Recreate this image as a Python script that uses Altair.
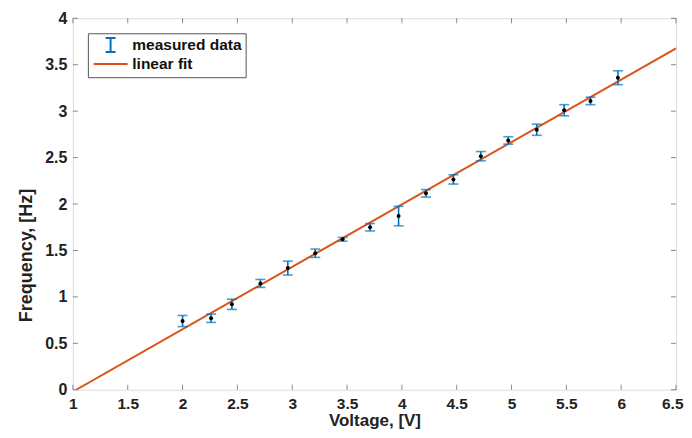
import altair as alt
import pandas as pd

# ---- data ----
volts = [2.00, 2.26, 2.45, 2.71, 2.96, 3.21, 3.46, 3.71, 3.97, 4.22, 4.47, 4.72, 4.97, 5.23, 5.48, 5.72, 5.97]
freq = [0.74, 0.77, 0.92, 1.145, 1.31, 1.47, 1.62, 1.75, 1.87, 2.115, 2.265, 2.515, 2.685, 2.80, 3.01, 3.11, 3.36]
err = [0.06, 0.045, 0.055, 0.043, 0.075, 0.045, 0.02, 0.04, 0.105, 0.04, 0.05, 0.05, 0.04, 0.06, 0.06, 0.04, 0.075]
fit_x = [1.03, 6.5]
fit_y = [0.0, 3.675]
x_ticks = [1, 1.5, 2, 2.5, 3, 3.5, 4, 4.5, 5, 5.5, 6, 6.5]
y_ticks = [0, 0.5, 1, 1.5, 2, 2.5, 3, 3.5, 4]
series = ["measured data", "linear fit"]

W, H = 604, 372
BLUE = "#0072BD"
ORANGE = "#D95319"
FRAME = "#555555"
FONT = "Liberation Sans"

meas = pd.DataFrame({
    "x": volts, "y": freq,
    "lo": [f - e for f, e in zip(freq, err)],
    "hi": [f + e for f, e in zip(freq, err)],
    "series": series[0],
})
fit = pd.DataFrame({"x": fit_x, "y": fit_y, "series": series[1]})
both = pd.concat([meas[["x", "y", "series"]], fit], ignore_index=True)
xt = pd.DataFrame({"x": x_ticks})
yt = pd.DataFrame({"y": y_ticks})

sx = alt.Scale(domain=[1, 6.5], nice=False, zero=False)
sy = alt.Scale(domain=[0, 4], nice=False, zero=False)
last_x = x_ticks[-1]
ax = alt.Axis(values=x_ticks, format="~g", tickSize=0, domain=False, grid=False,
              labelPadding=7, labelFontSize=15.5, labelFontWeight="bold", labelColor="#222",
              labelFont=FONT,
              labelAlign={"condition": {"test": f"datum.value == {last_x}", "value": "right"}, "value": "center"},
              labelOffset={"condition": {"test": f"datum.value == {last_x}", "value": 7}, "value": 0},
              title="Voltage, [V]", titleFontSize=17, titleFontWeight="bold",
              titleFont=FONT, titleColor="#222", titlePadding=0, labelFlush=False)
ay = alt.Axis(values=y_ticks, format="~g", tickSize=0, domain=False, grid=False,
              labelPadding=6, labelFontSize=16, labelFontWeight="bold", labelColor="#222",
              labelFont=FONT, title="Frequency, [Hz]", titleFontSize=18, titleFontWeight="bold",
              titleFont=FONT, titleColor="#222", titlePadding=9, titleY=237, labelFlush=False)


def X(f="x"):
    return alt.X(f"{f}:Q", scale=sx, axis=ax)


def Y(f="y"):
    return alt.Y(f"{f}:Q", scale=sy, axis=ay)


ERR_PATH = "M1.83,-1.17L1.83,1.17M1.0,-1.17L2.67,-1.17M1.0,1.17L2.67,1.17M1.83,-0.25L1.83,0.25"
LINE_PATH = "M-1,0L4.67,0"

legend = alt.Legend(
    title=None, orient="none", legendX=15, legendY=15,
    labelFont=FONT, labelFontSize=15.5, labelFontWeight="bold", labelColor="#111",
    labelOffset=25, symbolSize=144, symbolStrokeWidth=2, symbolOpacity=1,
    padding=4, rowPadding=0, strokeColor=FRAME, fillColor="white",
)
key = alt.Chart(both).mark_point(filled=False, opacity=0).encode(
    x=X(), y=Y(),
    color=alt.Color("series:N", scale=alt.Scale(domain=series, range=[BLUE, ORANGE]), legend=legend),
    shape=alt.Shape("series:N", scale=alt.Scale(domain=series, range=[ERR_PATH, LINE_PATH]), legend=legend),
)

fit_line = alt.Chart(fit).mark_line(strokeWidth=2, clip=True, color=ORANGE).encode(x=X(), y=Y())
bars = alt.Chart(meas).mark_rule(strokeWidth=1.6, color=BLUE).encode(x=X(), y=Y("lo"), y2="hi:Q")
cap_hi = alt.Chart(meas).mark_tick(orient="horizontal", size=10, thickness=1.6, color=BLUE).encode(x=X(), y=Y("hi"))
cap_lo = alt.Chart(meas).mark_tick(orient="horizontal", size=10, thickness=1.6, color=BLUE).encode(x=X(), y=Y("lo"))
dots = alt.Chart(meas).mark_circle(size=16, color="black", opacity=1).encode(x=X(), y=Y())

tk = dict(color=FRAME, thickness=1, size=5)
t_bottom = alt.Chart(xt).mark_tick(orient="vertical", **tk).encode(x=X(), y=alt.value(H - 2.5))
t_top = alt.Chart(xt).mark_tick(orient="vertical", **tk).encode(x=X(), y=alt.value(2.5))
t_left = alt.Chart(yt).mark_tick(orient="horizontal", **tk).encode(y=Y(), x=alt.value(2.5))
t_right = alt.Chart(yt).mark_tick(orient="horizontal", **tk).encode(y=Y(), x=alt.value(W - 2.5))

chart = alt.layer(
    t_bottom, t_top, t_left, t_right, fit_line, bars, cap_hi, cap_lo, dots, key
).properties(
    width=W, height=H,
    autosize=alt.AutoSizeParams(type="none"),
    padding={"left": 65, "top": 10, "right": 8, "bottom": 40},
).configure_view(
    stroke=FRAME, strokeWidth=1.2
).configure(background="white")

chart.save("out.html", embed_options={"renderer": "svg", "actions": False})
